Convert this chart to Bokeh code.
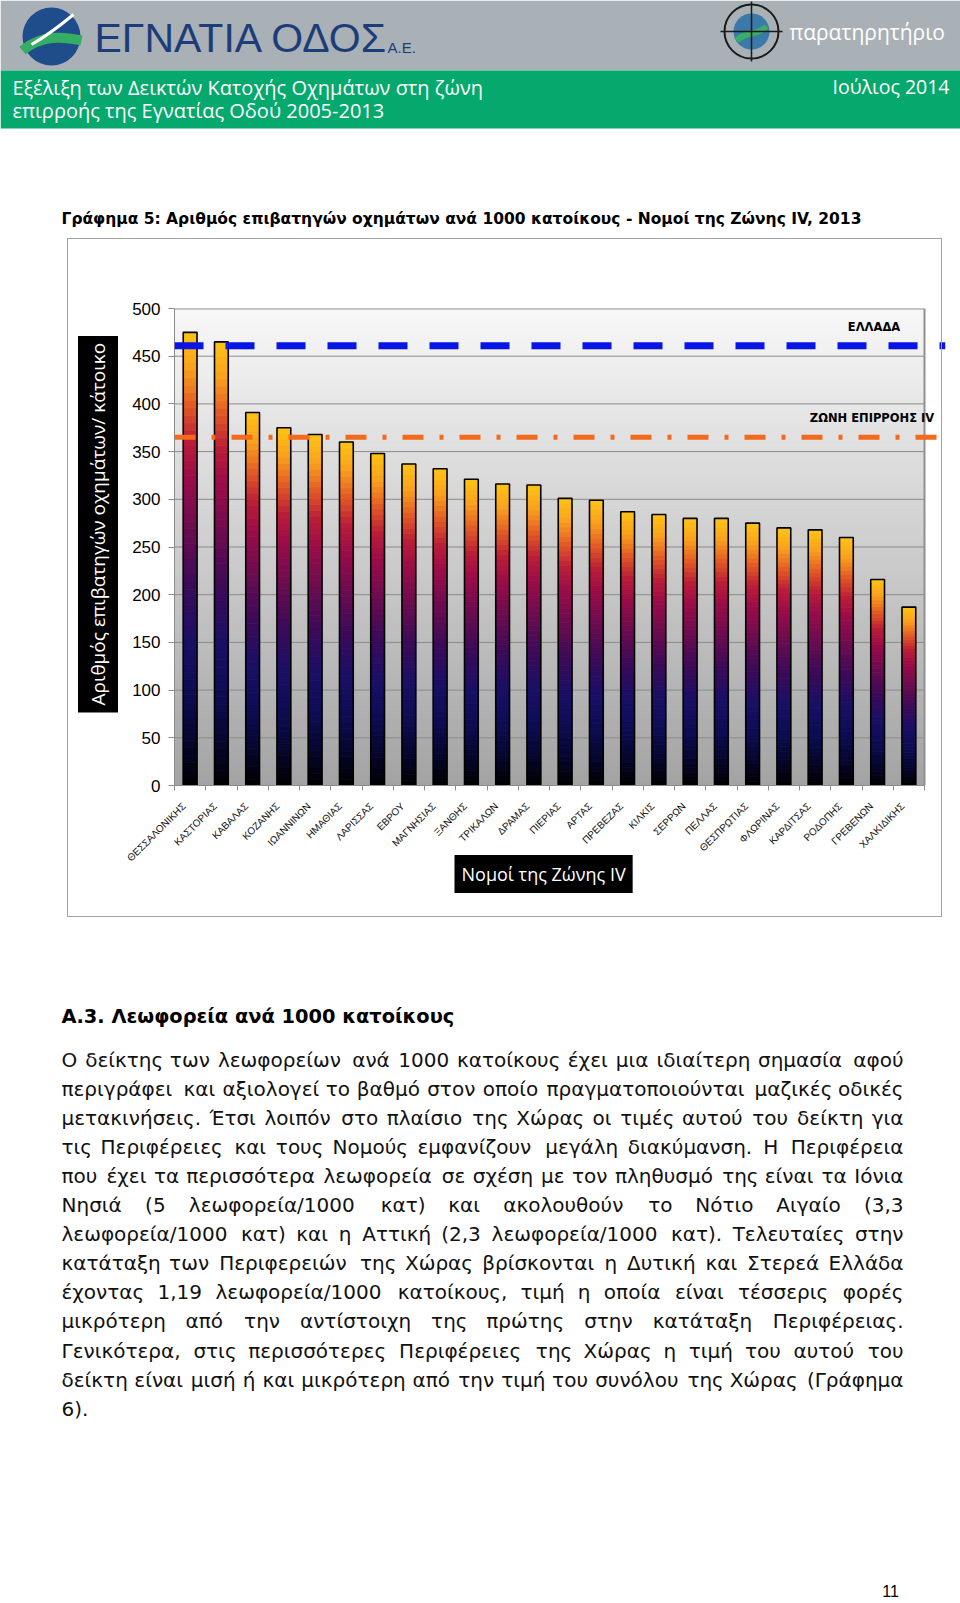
import math
from bokeh.plotting import figure
from bokeh.models import Range1d, FixedTicker, Span, Title, InlineStyleSheet
from bokeh.embed import file_html
from bokeh.resources import INLINE
from bokeh.core.properties import value

# ---------------- data ----------------
NOMOI = ["ΘΕΣΣΑΛΟΝΙΚΗΣ", "ΚΑΣΤΟΡΙΑΣ", "ΚΑΒΑΛΑΣ", "ΚΟΖΑΝΗΣ", "ΙΩΑΝΝΙΝΩΝ", "ΗΜΑΘΙΑΣ",
         "ΛΑΡΙΣΣΑΣ", "ΕΒΡΟΥ", "ΜΑΓΝΗΣΙΑΣ", "ΞΑΝΘΗΣ", "ΤΡΙΚΑΛΩΝ", "ΔΡΑΜΑΣ", "ΠΙΕΡΙΑΣ",
         "ΑΡΤΑΣ", "ΠΡΕΒΕΖΑΣ", "ΚΙΛΚΙΣ", "ΣΕΡΡΩΝ", "ΠΕΛΛΑΣ", "ΘΕΣΠΡΩΤΙΑΣ", "ΦΛΩΡΙΝΑΣ",
         "ΚΑΡΔΙΤΣΑΣ", "ΡΟΔΟΠΗΣ", "ΓΡΕΒΕΝΩΝ", "ΧΑΛΚΙΔΙΚΗΣ"]
VEHICLES_PER_1000 = [475, 465, 391, 375, 368, 360, 348, 337, 332, 321, 316, 315, 301,
                     299, 287, 284, 280, 280, 275, 270, 268, 260, 216, 187]
GREECE_LEVEL = 461
ZONE_IV_LEVEL = 365
Y_TICKS = [0, 50, 100, 150, 200, 250, 300, 350, 400, 450, 500]

LINE_LABELS = ["ΕΛΛΑΔΑ", "ΖΩΝΗ ΕΠΙΡΡΟΗΣ IV"]
Y_TITLE = "Αριθμός επιβατηγών οχημάτων/ κάτοικο"
X_TITLE = "Νομοί της Ζώνης IV"
CHART_TITLE = "Γράφημα 5: Αριθμός επιβατηγών οχημάτων ανά 1000 κατοίκους - Νομοί της Ζώνης IV, 2013"

LOGO_TEXT = "ΕΓΝΑΤΙΑ ΟΔΟΣ"
LOGO_SUFFIX = "Α.Ε."
OBSERVATORY = "παρατηρητήριο"
BAND_LINES = ["Εξέλιξη των Δεικτών Κατοχής Οχημάτων στη ζώνη",
              "επιρροής της Εγνατίας Οδού 2005-2013"]
BAND_DATE = "Ιούλιος 2014"

SECTION_TITLE = "Α.3. Λεωφορεία ανά 1000 κατοίκους"
PARAGRAPH = [
    "Ο δείκτης των λεωφορείων ανά 1000 κατοίκους έχει μια ιδιαίτερη σημασία αφού",
    "περιγράφει και αξιολογεί το βαθμό στον οποίο πραγματοποιούνται μαζικές οδικές",
    "μετακινήσεις. Έτσι λοιπόν στο πλαίσιο της Χώρας οι τιμές αυτού του δείκτη  για",
    "τις Περιφέρειες και τους Νομούς εμφανίζουν μεγάλη διακύμανση. Η Περιφέρεια",
    "που έχει τα περισσότερα λεωφορεία σε σχέση με τον πληθυσμό της είναι τα Ιόνια",
    "Νησιά (5 λεωφορεία/1000 κατ) και ακολουθούν το Νότιο Αιγαίο (3,3",
    "λεωφορεία/1000 κατ) και η Αττική (2,3 λεωφορεία/1000 κατ). Τελευταίες στην",
    "κατάταξη των Περιφερειών της Χώρας βρίσκονται η Δυτική και Στερεά Ελλάδα",
    "έχοντας 1,19 λεωφορεία/1000 κατοίκους, τιμή η οποία είναι τέσσερις φορές",
    "μικρότερη από την αντίστοιχη της πρώτης στην κατάταξη Περιφέρειας.",
    "Γενικότερα, στις περισσότερες  Περιφέρειες της Χώρας η τιμή του αυτού του",
    "δείκτη είναι μισή ή και μικρότερη από την τιμή του συνόλου της Χώρας (Γράφημα",
    "6).",
]
PAGE_NUMBER = "11"

# ---------------- helpers ----------------
def hex2rgb(h):
    h = h.lstrip("#")
    return tuple(int(h[i:i + 2], 16) for i in (0, 2, 4))


def lerp_stops(stops, f):
    f = min(max(f, 0.0), 1.0)
    for (f0, c0), (f1, c1) in zip(stops[:-1], stops[1:]):
        if f0 <= f <= f1:
            t = 0 if f1 == f0 else (f - f0) / (f1 - f0)
            a, b = hex2rgb(c0), hex2rgb(c1)
            return "#%02x%02x%02x" % tuple(int(round(a[k] + (b[k] - a[k]) * t)) for k in range(3))
    return stops[-1][1]


BAR_STOPS = [(0.0, "#ffc414"), (0.08, "#f9a01e"), (0.16, "#e35a24"), (0.24, "#bb1d38"),
             (0.32, "#9a0c48"), (0.44, "#690c50"), (0.56, "#3a0a58"), (0.68, "#1a0f66"),
             (0.80, "#0c0c52"), (0.90, "#06062e"), (1.0, "#000000")]
BG_STOPS = [(0.0, "#f8f8f8"), (1.0, "#a3a3a3")]

# approximate DejaVu Sans advance widths (em) used to justify paragraph lines
EM = {" ": 0.318, ".": 0.318, ",": 0.318, "(": 0.39, ")": 0.39, "/": 0.337, ":": 0.337,
      "-": 0.361}
EM.update({d: 0.636 for d in "0123456789"})
EM.update({"α": 0.66, "ά": 0.66, "β": 0.64, "γ": 0.59, "δ": 0.61, "ε": 0.54, "έ": 0.54,
           "ζ": 0.53, "η": 0.63, "ή": 0.63, "θ": 0.61, "ι": 0.34, "ί": 0.34, "ϊ": 0.34,
           "κ": 0.59, "λ": 0.59, "μ": 0.64, "ν": 0.59, "ξ": 0.53, "ο": 0.61, "ό": 0.61,
           "π": 0.66, "ρ": 0.64, "σ": 0.64, "ς": 0.55, "τ": 0.58, "υ": 0.61, "ύ": 0.61,
           "φ": 0.79, "χ": 0.59, "ψ": 0.81, "ω": 0.84, "ώ": 0.84})
EM.update({"Α": 0.68, "Β": 0.69, "Γ": 0.56, "Δ": 0.68, "Ε": 0.63, "Έ": 0.75, "Ζ": 0.69,
           "Η": 0.75, "Θ": 0.79, "Ι": 0.29, "Ί": 0.45, "Κ": 0.66, "Λ": 0.68, "Μ": 0.86,
           "Ν": 0.75, "Ξ": 0.63, "Ο": 0.79, "Π": 0.75, "Ρ": 0.6, "Σ": 0.63, "Τ": 0.61,
           "Υ": 0.61, "Φ": 0.79, "Χ": 0.68, "Ψ": 0.79, "Ω": 0.76})


def est_width(s, size):
    return size * sum(EM.get(ch, 0.62) for ch in s)


W = 960
PAGE_H = 1600


def no_axes_fig(height, top):
    f = figure(width=W, height=height, x_range=Range1d(0, W), y_range=Range1d(top + height, top),
               output_backend="svg", toolbar_location=None, min_border=0,
               x_axis_location=None, y_axis_location=None, title=None)
    f.outline_line_color = None
    f.grid.visible = False
    return f


# ---------------- header figure (page px coordinates) ----------------
TOP_H = 230
tf = no_axes_fig(TOP_H, 0)

tf.quad(left=0, right=W, top=0, bottom=70, fill_color="#a9b1b6", line_color=None)
tf.quad(left=0, right=W, top=70, bottom=128, fill_color="#05a86d", line_color=None)

# logo mark
tf.circle(x=51, y=36, radius=29, fill_color="#1f4d8c", line_color=None)
tf.bezier(x0=22, y0=50, x1=81, y1=40, cx0=41, cy0=34, cx1=63, cy1=36,
          line_color="#35ad62", line_width=10)
tf.bezier(x0=31, y0=44, x1=73, y1=14, cx0=45, cy0=36, cx1=61, cy1=24,
          line_color="white", line_width=3)
tf.text(x=[94], y=[37], text=[LOGO_TEXT], text_baseline="middle",
        text_font=value("Liberation Sans"), text_font_size="41px", text_color="#1c3d78")
tf.text(x=[387], y=[47], text=[LOGO_SUFFIX], text_baseline="middle",
        text_font=value("Liberation Sans"), text_font_size="15px", text_color="#1c3d78")

# observatory mark
tf.circle(x=751, y=31, radius=18, fill_color="#3b7aa8", line_color=None)
tf.bezier(x0=736, y0=40, x1=766, y1=26, cx0=746, cy0=30, cx1=756, cy1=36,
          line_color="#3aae66", line_width=6)
tf.circle(x=751, y=31, radius=27, fill_color=None, line_color="#1a1a1a", line_width=2)
tf.segment(x0=[720, 751], y0=[31, 1], x1=[782, 751], y1=[31, 61],
           line_color="#1a1a1a", line_width=1.5)
tf.text(x=[789], y=[31], text=[OBSERVATORY], text_baseline="middle",
        text_font=value("Open Sans"), text_font_size="21px", text_color="white")

tf.text(x=[12, 12], y=[87, 110], text=BAND_LINES, text_baseline="middle",
        text_font=value("Open Sans"), text_font_size="20px", text_color="white")
tf.text(x=[949], y=[86], text=[BAND_DATE], text_baseline="middle", text_align="right",
        text_font=value("Open Sans"), text_font_size="19.5px", text_color="white")

tf.text(x=[61], y=[218], text=[CHART_TITLE], text_baseline="middle",
        text_font=value("DejaVu Sans"), text_font_style="bold",
        text_font_size="15.5px", text_color="black")

# ---------------- chart figure ----------------
CH_H = 695
CHART_TOP = TOP_H
FRAME_L, FRAME_R, FRAME_T, FRAME_B = 174, 945, 308, 785      # page px
BOX_L, BOX_R, BOX_T, BOX_B = 67, 942, 238, 917                 # chart outer box, page px
n = len(NOMOI)
XS = 5                                   # x units per category
xs = [XS * (i + 1) for i in range(n)]    # bar centres
label_ticks = [x - 1 for x in xs]        # tick-label anchors, slightly left of the bars
px_per_cat = 750 / n
x_lo = XS * 0.5
x_hi = XS * (n + 0.5)
x_end = XS * (0.5 + (FRAME_R - FRAME_L) / px_per_cat)
px_per_unit = (FRAME_B - FRAME_T) / Y_TICKS[-1]


def xd(px):
    return XS * (0.5 + (px - FRAME_L) / px_per_cat)


def yd(py):
    return (FRAME_B - py) / px_per_unit


box_css = InlineStyleSheet(css=(
    ":host { position: relative; }\n"
    ":host::after { content: ''; position: absolute; "
    f"left: {BOX_L}px; top: {BOX_T - CHART_TOP}px; "
    f"width: {BOX_R - BOX_L}px; height: {BOX_B - BOX_T}px; "
    "border: 1.5px solid #a3a3a3; box-sizing: border-box; pointer-events: none; }"))

cf = figure(width=W, height=CH_H, x_range=Range1d(x_lo, x_end), y_range=Range1d(0, Y_TICKS[-1]),
            output_backend="svg", toolbar_location=None, title=None,
            min_border_left=FRAME_L, min_border_right=W - FRAME_R,
            min_border_top=FRAME_T - CHART_TOP, min_border_bottom=CHART_TOP + CH_H - FRAME_B,
            stylesheets=[box_css])
cf.outline_line_color = None
cf.xgrid.visible = False
cf.ygrid.visible = False
cf.background_fill_color = "white"
cf.border_fill_color = "white"

# plot-area gradient
NB = 100
top_v = Y_TICKS[-1]
bg_b = [top_v * j / NB for j in range(NB)]
bg_t = [top_v * (j + 1) / NB for j in range(NB)]
bg_c = [lerp_stops(BG_STOPS, 1 - (j + 0.5) / NB) for j in range(NB)]
cf.quad(left=x_lo, right=x_hi, bottom=bg_b, top=bg_t, fill_color=bg_c, line_color=bg_c,
        line_width=1)

# gridlines and plot-area border
grid_vals = Y_TICKS[1:-1]
cf.segment(x0=[x_lo] * len(grid_vals), x1=[x_hi] * len(grid_vals), y0=grid_vals, y1=grid_vals,
           line_color="#8a8a8a", line_width=1)
cf.segment(x0=[x_lo, x_hi], x1=[x_hi, x_hi], y0=[top_v, 0], y1=[top_v, top_v],
           line_color="#8f8f8f", line_width=2)

# gradient bars
NSEG = 60
sx, sb, st, sc = [], [], [], []
for x, v in zip(xs, VEHICLES_PER_1000):
    for k in range(NSEG):
        sx.append(x)
        sb.append(v * k / NSEG)
        st.append(v * (k + 1) / NSEG)
        sc.append(lerp_stops(BAR_STOPS, 1 - (k + 0.5) / NSEG))
BAR_W = 0.44 * XS
cf.vbar(x=sx, bottom=sb, top=st, width=BAR_W, fill_color=sc, line_color=sc, line_width=0.8)
cf.vbar(x=xs, bottom=0, top=VEHICLES_PER_1000, width=BAR_W, fill_color=None,
        line_color="black", line_width=1.6)

# reference lines
cf.add_layout(Span(location=GREECE_LEVEL, dimension="width", line_color="#0716e6",
                   line_width=7, line_dash="29 22"))
cf.add_layout(Span(location=ZONE_IV_LEVEL, dimension="width", line_color="#f36a1c",
                   line_width=5, line_dash="21 16 4 16"))
cf.text(x=[xd(873.5), xd(871.5)], y=[yd(326), yd(417.7)], text=LINE_LABELS,
        text_align="center", text_baseline="middle", text_font=value("DejaVu Sans"),
        text_font_style="bold", text_font_size="11.5px", text_color="black")

# axes
cf.yaxis.ticker = FixedTicker(ticks=Y_TICKS)
cf.yaxis.major_label_text_font = "Liberation Sans"
cf.yaxis.major_label_text_font_size = "17px"
cf.yaxis.major_label_text_color = "black"
cf.yaxis.major_label_standoff = 8
cf.yaxis.major_tick_out = 6
cf.yaxis.major_tick_in = 0
cf.yaxis.minor_tick_line_color = None
cf.yaxis.axis_line_color = "#8c8c8c"
cf.yaxis.major_tick_line_color = "#8c8c8c"

cf.xaxis.ticker = FixedTicker(ticks=label_ticks,
                              minor_ticks=[XS * (i + 0.5) for i in range(n + 1)])
cf.xaxis.major_label_overrides = {t: name for t, name in zip(label_ticks, NOMOI)}
cf.xaxis.bounds = (x_lo, x_hi)
cf.xaxis.major_tick_line_color = None
cf.xaxis.minor_tick_out = 5
cf.xaxis.minor_tick_in = 0
cf.xaxis.minor_tick_line_color = "#8c8c8c"
cf.xaxis.axis_line_color = "#8c8c8c"
cf.xaxis.major_label_orientation = math.pi / 4
cf.xaxis.major_label_text_font = "Liberation Sans"
cf.xaxis.major_label_text_font_size = "10px"
cf.xaxis.major_label_text_color = "#111111"
cf.xaxis.major_label_standoff = 13

# axis titles: white text in black boxes
PAD = 7
y_title = Title(text=Y_TITLE, align="left", offset=73, standoff=23,
                text_color="white", text_font="Open Sans", text_font_size="19px",
                text_font_style="normal", background_fill_color="black",
                background_fill_alpha=1.0)
x_title = Title(text=X_TITLE, align="left", offset=280, standoff=4,
                text_color="white", text_font="Open Sans", text_font_size="18px",
                text_font_style="normal", background_fill_color="black",
                background_fill_alpha=1.0)
for t in (y_title, x_title):
    try:
        t.padding = PAD
    except Exception:
        pass
try:
    x_title.standoff = -35
except Exception:
    x_title.standoff = 0
cf.add_layout(y_title, "left")
cf.add_layout(x_title, "below")

# ---------------- text figure ----------------
BOT_TOP = CHART_TOP + CH_H
BOT_H = PAGE_H - BOT_TOP
bf = no_axes_fig(BOT_H, BOT_TOP)

bf.text(x=[61], y=[1016], text=[SECTION_TITLE], text_baseline="middle",
        text_font=value("DejaVu Sans"), text_font_style="bold",
        text_font_size="19.4px", text_color="black")

# justified paragraph: words placed across the text column
P_LEFT, P_WIDTH, P_SIZE = 61, 842, 20
LINE_STEP = 29.1
lx, ly, lt, rx, ry, rt = [], [], [], [], [], []
for i, line in enumerate(PARAGRAPH):
    y = 1059 + i * LINE_STEP
    words = line.split()
    widths = [est_width(w, P_SIZE) for w in words]
    justify = i < len(PARAGRAPH) - 1 and len(words) > 1
    gap = (P_WIDTH - sum(widths)) / (len(words) - 1) if justify else EM[" "] * P_SIZE
    x = P_LEFT
    for k, (w, wd) in enumerate(zip(words, widths)):
        if justify and k == len(words) - 1:
            rx.append(P_LEFT + P_WIDTH); ry.append(y); rt.append(w)
        else:
            lx.append(x); ly.append(y); lt.append(w)
        x += wd + gap
bf.text(x=lx, y=ly, text=lt, text_baseline="middle", text_font=value("DejaVu Sans"),
        text_font_size="%dpx" % P_SIZE, text_color="#111111")
bf.text(x=rx, y=ry, text=rt, text_baseline="middle", text_align="right",
        text_font=value("DejaVu Sans"), text_font_size="%dpx" % P_SIZE, text_color="#111111")

bf.text(x=[890], y=[1590], text=[PAGE_NUMBER], text_baseline="middle", text_align="center",
        text_font=value("Liberation Sans"), text_font_size="16px", text_color="black")

open("out.html", "w").write(file_html([tf, cf, bf], INLINE))
